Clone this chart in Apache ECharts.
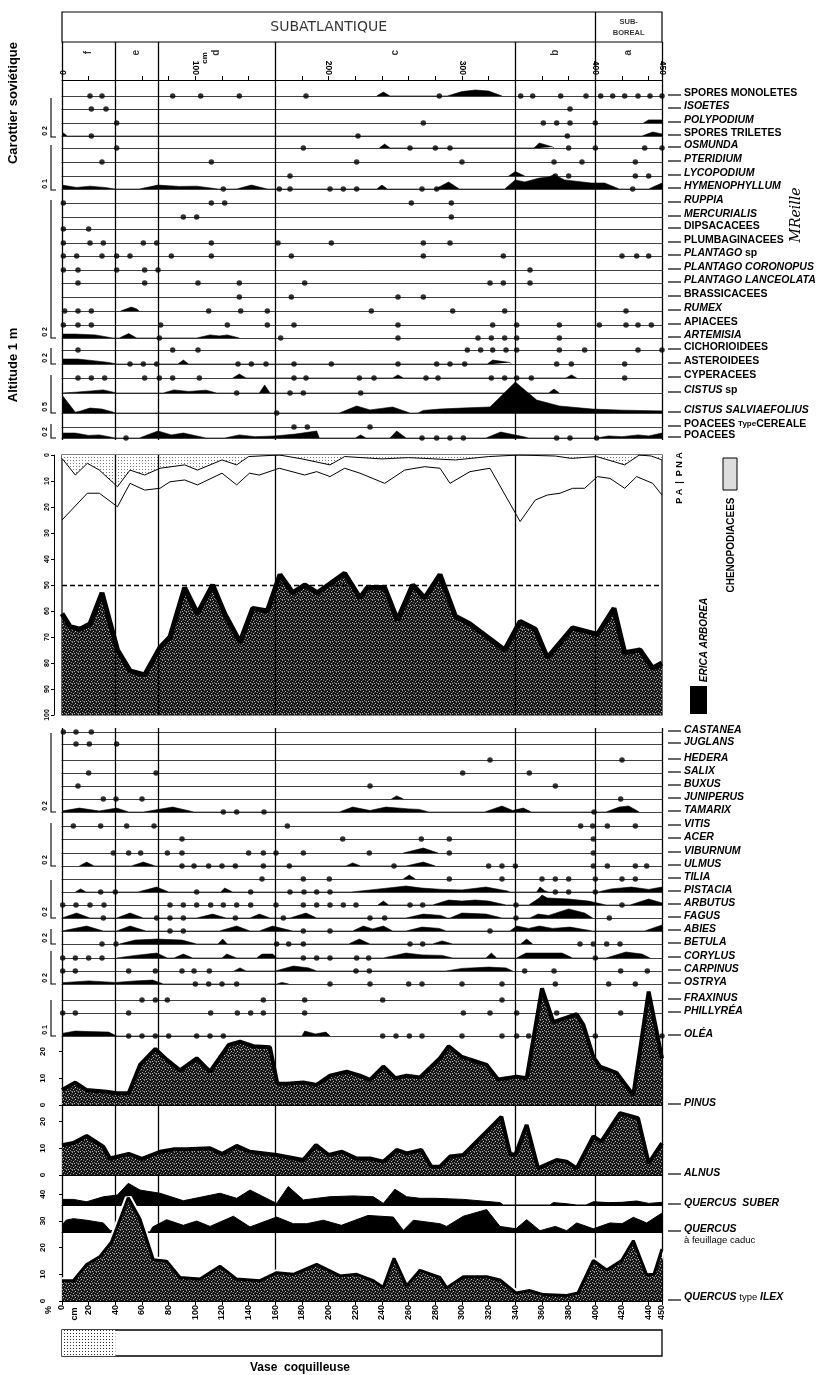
<!DOCTYPE html>
<html><head><meta charset="utf-8">
<script src="https://cdn.jsdelivr.net/npm/echarts@6/dist/echarts.min.js"></script>
<style>html,body{margin:0;padding:0;background:#fff}#c{width:818px;height:1375px}</style>
</head><body><div id="c"></div>
<script>
// ===================== DATA =====================
const zoneBounds = [40, 72, 160, 340, 400];
const zoneLetters = ['f', 'e', 'd', 'c', 'b', 'a'];
const zoneMids = [20, 56, 116, 250, 370, 425];
const periodNames = ['SUBATLANTIQUE', 'SUB-\nBOREAL'];
const periodMids = [200, 425];
const topTickLabels = [0, 100, 200, 300, 400, 450];

const upperTaxa = ['{r|SPORES MONOLETES}','{i|ISOETES}','{i|POLYPODIUM}','{r|SPORES TRILETES}','{i|OSMUNDA}','{i|PTERIDIUM}','{i|LYCOPODIUM}','{i|HYMENOPHYLLUM}','{i|RUPPIA}','{i|MERCURIALIS}','{r|DIPSACACEES}','{r|PLUMBAGINACEES}','{i|PLANTAGO} {r|sp}','{i|PLANTAGO CORONOPUS}','{i|PLANTAGO LANCEOLATA}','{r|BRASSICACEES}','{i|RUMEX}','{r|APIACEES}','{i|ARTEMISIA}','{r|CICHORIOIDEES}','{r|ASTEROIDEES}','{r|CYPERACEES}','{i|CISTUS} {r|sp}','{i|CISTUS SALVIAEFOLIUS}','{r|POACEES} {s|Type}{r|CEREALE}','{r|POACEES}'];
const upperDots = [
  [21,30,83,104,133,183,283,344,353,374,393,404,413,422,432,441,450],
  [22,33,381],
  [41,271,361,371,381,400],
  [22,222,379],
  [41,181,261,280,291,380,400,437,450],
  [30,112,221,300,369,390,430],
  [171,370,380,430,440],
  [121,163,171,201,211,221,270,281,428],
  [1,112,122,262,292],
  [91,101,292],
  [1,20],
  [1,21,31,61,71,112,162,202,271,291],
  [1,11,30,41,51,82,112,172,271,331,420,431,440],
  [1,12,41,62,72,351],
  [12,62,102,133,182,321,331,351],
  [133,172,252,271],
  [2,12,22,110,134,154,232,293,332,423],
  [1,12,22,74,124,154,174,252,323,341,373,403,423,432,442],
  [73,164,252,312,322,332,341,373],
  [12,83,102,304,314,323,333,341,373,392,432,450],
  [51,61,71,132,142,153,174,202,252,281,291,302,371,382,422],
  [12,22,32,62,73,83,103,174,183,223,234,273,282,322,332,341,352,422],
  [131,171,181,224],
  [161],
  [174,184,231],
  [48,270,281,291,301,371,381,401]
];
const upperCurves = [
  [[236,0],[241,1.5],[246,0],[289,0],[300,1.7],[310,2.3],[320,1.9],[330,0]],
  [],
  [[436,0],[440,1.2],[450,1.2]],
  [[0,1.5],[4,0],[435,0],[443,1.5],[450,0.8]],
  [[238,0],[242,1.5],[246,0],[354,0],[358,1.9],[368,0.4],[369,0]],
  [],
  [[335,0],[340,1.7],[347,0]],
  [[0,1.5],[11,0.6],[21,1.1],[32,0.6],[40,0],[58,0],[72,1.5],[88,1],[101,1.1],[117,0],[131,0],[142,1.5],[154,0],[236,0],[240,1.5],[244,0],[280,0],[290,2.7],[298,0],[332,0],[340,3.5],[347,2.7],[358,4.2],[365,4.6],[369,5.5],[377,3.5],[397,2.3],[407,2.3],[418,0],[440,0],[450,2.3]],
  [],[],[],[],[],[],[],[],
  [[44,0],[52,1.5],[56,0.8],[58,0]],
  [],
  [[0,1.5],[10,1.5],[25,1.2],[38,0],[43,0],[50,1.7],[56,0],[101,0],[111,1.2],[118,0.8],[124,1.2],[133,0]],
  [],
  [[0,1.9],[12,1.9],[25,1.2],[35,0.6],[41,0],[87,0],[91,1.5],[95,0],[319,0],[323,1.5],[336,0.6],[337,0]],
  [[128,0],[133,1.5],[138,0],[248,0],[252,1.2],[256,0],[378,0],[382,1.2],[386,0]],
  [[0,0],[10,0.3],[22,0.8],[31,1.2],[41,0],[76,0],[84,1.2],[95,0.6],[108,1.1],[116,0],[148,0],[152,3.1],[156,0],[365,0],[369,1.5],[373,0]],
  [[0,6.9],[10,0.3],[14,0.8],[21,1.9],[30,1.5],[38,0.4],[40,0],[208,0],[221,2.7],[231,1.2],[248,2.3],[261,0],[267,0],[271,1],[283,1.5],[300,1.9],[321,2.3],[340,11.9],[356,5],[373,2.7],[398,1.5],[420,1.1],[450,0.8]],
  [],
  [[0,1.9],[10,1.9],[20,1],[28,1.2],[40,0],[58,0],[72,2.7],[82,1.2],[91,1.9],[108,0],[122,0],[133,1.2],[145,0.5],[160,0.8],[175,1.5],[191,2.7],[193,0],[220,0],[224,1.2],[228,0],[246,0],[251,2.7],[258,0],[318,0],[329,2.3],[347,0.4],[350,0],[401,0],[410,0.8],[420,0.5],[432,1.2],[440,0.8],[450,1.9]]
];

// Pollen sum diagram (middle panel)
const chenopodiaceae = [[0,1.3],[10,7.7],[19,3.2],[28,5.8],[41.6,12.2],[51,5.8],[62,7.7],[73.5,5.1],[92,3.8],[101.6,5.8],[120,1.9],[131,3.8],[140,0.6],[163,0],[180,1.5],[201,3.8],[212,0.6],[240,1.5],[260,1],[295,1.9],[320,0.6],[343,0],[370,0.4],[382,1.3],[401,0.6],[422,3.8],[433,0],[442,0.4],[450,1.9]];
const apNapLine = [[0,25],[19,14.7],[28,14.7],[41.6,19.9],[51,10.9],[62,13.5],[73.5,12.8],[81,10.3],[92,9.6],[101.6,11.5],[120,7],[131,11.5],[140.6,7],[148,7.7],[163,5.1],[182,7.7],[191,6.4],[201,8.3],[212,5.1],[223.5,7],[242,10.9],[257,5.8],[272,4.5],[283.5,5.1],[291,10.9],[306,6.4],[321,5.1],[343.6,25.6],[355,17.3],[364,15.4],[373.5,14.7],[383,12.8],[392,12.8],[401.6,8.3],[411,9],[422,12.8],[431,8.3],[443,10.9],[450,15.4]];
const ericaArborea = [[0,39],[6,34],[13.5,33],[21,35],[30,47],[41.6,25],[51,17],[62,15.4],[73.5,26],[81,30],[92,49],[101.6,39],[113,50],[122,39],[133.5,28],[143,41],[154,40],[163.5,54],[173,47],[182,50],[191.6,47],[212,54.5],[223.5,45],[229,49],[242,49],[251.6,36.5],[263,50],[272,45],[283.5,54],[295,38],[306,35],[332,25],[343.6,36],[355,33],[364,22],[383,33.5],[401.6,31],[414,41],[422,24],[433.5,25],[443,18],[450,20]];

const lowerTaxa = ['CASTANEA','JUGLANS','HEDERA','SALIX','BUXUS','JUNIPERUS','TAMARIX','VITIS','ACER','VIBURNUM','ULMUS','TILIA','PISTACIA','ARBUTUS','FAGUS','ABIES','BETULA','CORYLUS','CARPINUS','OSTRYA','FRAXINUS','PHILLYRÉA','OLÉA'];
const lowerDots = [
  [1,10.5,22],
  [10.5,20.5,41],
  [321,420],
  [20,70.5,300.5,350.5],
  [12,231,370],
  [31,40.5,60,419],
  [121,131,151.5,399],
  [8.5,29,48.5,69,169,389,398,409,430],
  [90,210.5,269.5,290.5,398.5],
  [38.5,50,59,79,90,140,151,160.5,181,230.5,290.5,398.5],
  [90,99,110,120,130,151,170.5,249,320,330,340,398.5,409,430,438.5],
  [150,181,200.5,290.5,330,360,370,380,400,420,430],
  [29,40,101,141.5,171,181.5,191,201,370,380,400],
  [0.5,10.5,21,31.5,81,91,101,111.5,121,131,141.5,160.5,181,191,201,211,220.5,261,270.5,340.5,420],
  [31,71,81,91,130,166,231,242,340.5,410.5],
  [81,91,181,201,321],
  [30,40.5,161,170,181,261,270.5,388.5,398.5,408.5,418.5],
  [0.5,10,20,30,181,191,201,221,230,400],
  [0.5,10,50,70,90,99,110.5,220.5,230.5,347,369,419,439],
  [100,110,120,131,201,231,260,270,300,330,370,410,430],
  [60,70,79,151,182,240.5,330],
  [0.5,10,50,111.5,131.5,141.5,151,182,301,321,341,371,419,439],
  [50,60,70,80,101,111,121,240.5,250.5,260.5,270,300,330,341,350,400,450]
];
const lowerCurves = [
  [],[],[],[],[],
  [[247,0],[251,1.2],[256,0]],
  [[0,0.4],[13,1.5],[28,0.4],[41,1.5],[50,0],[61,0],[83,1.9],[99,0],[208,0],[218,1.9],[231,0.6],[243,1.9],[260,1.2],[268,1],[275,0],[317,0],[330,2.3],[338,0.6],[346,1.5],[352,0],[408,0],[418,1.9],[425,2.3],[433,0]],
  [],[],
  [[256,0],[271,1.9],[282,0]],
  [[13,0],[18.5,1.5],[24,0],[52,0],[61,1.5],[70,0],[213,0],[218,1.2],[224,0],[258,0],[271,1.5],[280,0]],
  [[256,0],[260.5,1.5],[265,0]],
  [[10,0],[14,1.2],[18,0],[57,0],[71,1.9],[80,0],[119,0],[122,1.5],[128,0],[217,0],[235,1],[258,2.3],[270,1.5],[285,1],[300,0.8],[318,1.9],[334,0.4],[336,0],[356,0],[358.5,1.9],[362,0.5],[365,0],[402,0],[412,1.2],[427,1.9],[440,1],[450,1.9]],
  [[237,0],[241,1.5],[245,0],[278,0],[290,1.9],[300,1.5],[310,1.9],[320,1.5],[333,0],[350,0],[358,2.7],[360,3.8],[364,2.7],[380,2.3],[395,1.5],[408,0],[426,0],[440,2.3],[450,0.8]],
  [[0,0],[11,1.9],[21,0],[41,0],[51,1.9],[61,0],[101,0],[113,1.5],[123,0],[141,0],[148,1.5],[156,0],[171,0],[183,1.9],[191,0],[258,0],[271,1.5],[284,1],[289,0],[291,0],[300,1.9],[318,1.5],[330,0],[351,0],[357,1.5],[365,1],[380,3.5],[392,1.9],[398,0]],
  [[0,0],[18.5,1.9],[31,0],[41,0],[51,1.9],[63,0],[118,0],[131,1.9],[141,0],[148,0],[158,1.9],[173,0],[218,0],[226,1.9],[233,0.8],[241,1.9],[248,0],[258,0],[270,1.5],[283,1],[288,0],[336,0],[341,1.9],[350,1],[358,1.9],[368,1],[381,1.5],[398,0],[437,0],[450,2.3]],
  [[43,0],[55,1.5],[71,1.9],[90,1.5],[101,0],[117,0],[120.5,1.9],[124,0],[215,0],[223,1.9],[231,0],[278,0],[285,1.2],[293,0],[344,0],[348.5,1.9],[353,0]],
  [[41,0],[55,1],[71,1.9],[79,0],[84,0],[91,1.5],[98,0],[120,0],[123.5,1.5],[131,0],[146,0],[150,1.5],[158,1.5],[161,0],[241,0],[258,1.9],[270,1.2],[285,1],[293,0],[318,0],[322,1.9],[326,0],[341,0],[348,1.9],[375,1.9],[383,0],[408,0],[423,2.3],[435,1.5],[441,0]],
  [[129,0],[133.5,1.2],[138,0],[160,0],[173.5,1.9],[185,1.2],[191,0],[288,0],[300,1],[320,1.5],[333,1.2],[338,0]],
  [[0,0.5],[20,1.2],[40,0.6],[55,1.2],[68,1.5],[76,0],[161,0],[165,0.6],[170,0]],
  [],[],
  [[0,1],[10,1.9],[20,1.7],[35,1.5],[41,0],[180,0],[182,1.9],[190,0.8],[198,1.5],[201,0]]
];

const pinus = [[0,5.6],[10,8.4],[18.5,5.6],[33.5,5],[41,4.4],[50,4.4],[58.5,15],[70,21],[78.5,17],[88.5,13],[101,17.5],[111,12.5],[125,22.5],[133.5,23.7],[143.5,22],[156,21.6],[161.5,8],[168.5,8],[181,8.4],[191,7.5],[201,11],[213.5,12.5],[223.5,11],[231,9.4],[241,14.4],[250,10],[258.5,11],[268.5,10.3],[283.5,17.5],[290,22],[300,18],[318.5,15],[327,9.6],[341,10.6],[348.5,10],[360,43.7],[368.5,31],[386,34],[391,30],[398.5,18],[403.5,14.4],[416,12],[428.5,3.7],[440,42.5],[450,17.5]];
const alnus = [[0,11.2],[8.5,12],[18.5,14.6],[31,10.6],[36,6.2],[41.5,6.9],[50,7.9],[60,6],[73.5,8.7],[83.5,9.6],[93.5,9.6],[111,10],[120,7.9],[131,10.9],[141,8.7],[161,7.5],[181,5.6],[190.5,11.2],[200,7.5],[210,8.7],[221,6.2],[231,6.2],[241,5],[251,9.4],[258.5,8.1],[269.5,9.4],[277,3.1],[283.5,3.1],[291,6.9],[301,7.5],[310,12],[320,17],[329.5,21.8],[336,8],[340,7.5],[348.5,18.7],[357,2.5],[371,5.6],[378.5,5],[386,2.5],[398.5,14.4],[404.5,12.5],[418.5,23.2],[432,21.3],[440,4.4],[450,11.9]];
const quercusSuber = [[0,2.1],[8.5,2.1],[18.5,1.2],[31,3.1],[41.5,3.7],[49.7,8.1],[58.5,5.6],[73.5,4.4],[91,1.6],[118.5,4.4],[131,2.5],[141,5.6],[161,0.6],[169.7,6.9],[181,1.9],[201,3.1],[218.5,3.4],[233.5,3.1],[241,0.6],[249.7,5.9],[258.5,3.1],[268.5,2.5],[280,2.5],[301,2.1],[328.5,0.9],[331,0],[366,0],[368.5,0.9],[378,0.5],[386,0],[393,0],[398.5,1.2],[410,0.9],[420,1],[431,1.5],[440,0.6],[450,1]];
const quercusCaduc = [[0,2.5],[3,4.4],[8.5,5],[18.5,4.4],[31,3.4],[36,0.6],[37,0],[66,0],[68,1.9],[78.5,4.6],[91,2.5],[101,4.1],[111,2.1],[128.5,5.9],[141,1.9],[161,5.6],[173.5,3.1],[183.5,3.1],[196,4.4],[209.5,2.5],[229.5,6.2],[248.5,5.6],[256,0.6],[263.5,4.4],[283.5,3.1],[288.5,2.1],[301,5.9],[318.5,8.4],[328.5,2.1],[340.5,1.2],[348.5,4.6],[358.5,0.5],[370,2.1],[378.5,0.5],[386,3.4],[398.5,1.2],[411,3.4],[420,3.1],[428.5,5.5],[438.5,3.4],[450,7.1]];
const quercusIlex = [[0,7.6],[8.5,7.6],[18.5,13.7],[28.5,16.7],[37,22],[49.7,38.7],[58.5,30.7],[68.5,15.5],[78.5,14.9],[88.5,8.8],[103.5,8.2],[118.5,13],[131,8.2],[148.5,7.6],[161,10.6],[173.5,10],[191,13.7],[208.5,9.4],[221,10],[233.5,7.6],[241,5.1],[249,16],[258.5,5.7],[268.5,11.5],[283.5,8.8],[288.5,4.9],[301,9.1],[318.5,9.1],[328.5,7.9],[340.5,3],[351,3.9],[361,2.4],[378.5,2.1],[387,3],[398.5,15.2],[408.5,11.6],[419.7,15.2],[428.5,22.6],[438.5,9.8],[444,10],[450,19.5]];
const bigTaxa = ['{i|PINUS}','{i|ALNUS}','{i|QUERCUS  SUBER}','{i|QUERCUS}\n{n|à feuillage caduc}','{i|QUERCUS} {n|type} {i|ILEX}'];
const lithology = [[0, 40]];
const scaleLabels = ['0 2', '0 1', '0 2', '0 2', '0 5', '0 2', '0 2', '0 2', '0 2', '0 2', '0 2', '0 1'];

// ===================== LAYOUT =====================
const L = 62, W = 600;
const upperBase = [96,109,123,136,148,162,176,189,203,217,229,243,256,270,283,297,311,325,338,350,364,378,393,413,427,438];
const lowerBase = [732,744,760,773,786,799,812,826,839,853,866,879,892,905,918,931,944,958,971,984,1000,1013,1036];
const brackets = [[98,137],[145,190],[200,338],[348,364],[375,413],[424,438],[733,812],[823,866],[880,918],[929,944],[951,984],[1000,1036]];
const PX = 2.6, BPX = 2.67;
const F = '"Liberation Sans", Arial, sans-serif';

function speckle() {
  const c = document.createElement('canvas'); c.width = 6; c.height = 6;
  const g = c.getContext('2d');
  g.fillStyle = '#161616'; g.fillRect(0, 0, 6, 6);
  const pts = [[0,0,'#8a8a8a'],[3,1,'#c0c0c0'],[5,2,'#777'],[1,3,'#aaa'],[4,4,'#999'],[2,5,'#bbb'],[5,5,'#666'],[2,2,'#555'],[0,5,'#888']];
  pts.forEach(p => { g.fillStyle = p[2]; g.fillRect(p[0], p[1], 1, 1); });
  return c;
}
function dotPat(color) {
  const c = document.createElement('canvas'); c.width = 3; c.height = 3;
  const g = c.getContext('2d');
  g.fillStyle = '#fff'; g.fillRect(0, 0, 3, 3);
  g.fillStyle = color; g.fillRect(1, 1, 1, 1);
  return c;
}
const SPECKLE = {image: speckle(), repeat: 'repeat'};
const DOTS = {image: dotPat('#777'), repeat: 'repeat'};
const STIP = {image: dotPat('#333'), repeat: 'repeat'};

const grids = [], xA = [], yA = [], ser = [], gfx = [];
const noAx = {axisLine:{show:false}, axisTick:{show:false}, axisLabel:{show:false}, splitLine:{show:false}};
function grid(top, height, xo, yo, go) {
  const gi = grids.length;
  grids.push(Object.assign({left: L, width: W, top: top, height: height}, go || {}));
  const xi = xA.push(Object.assign({gridIndex: gi, type: 'value', min: 0, max: 450}, noAx, xo || {})) - 1;
  const yi = yA.push(Object.assign({gridIndex: gi, type: 'value', min: 0, max: 1}, noAx, yo || {})) - 1;
  return {gi, xi, yi};
}
function vlines(a, depths) {
  ser.push({type: 'line', xAxisIndex: a.xi, yAxisIndex: a.yi, data: [], silent: true, z: 1,
    markLine: {silent: true, symbol: 'none', label: {show: false}, animation: false,
      lineStyle: {color: '#000', width: 1.3, type: 'solid'}, data: depths.map(d => ({xAxis: d}))}});
}
const RICH = {
  r: {fontFamily: F, fontWeight: 'bold', fontSize: 10.5, fill: '#000', color: '#000'},
  i: {fontFamily: F, fontWeight: 'bold', fontStyle: 'italic', fontSize: 10.5, fill: '#000', color: '#000'},
  s: {fontFamily: F, fontWeight: 'bold', fontSize: 8, fill: '#000', color: '#000'},
  n: {fontFamily: F, fontSize: 9.5, fill: '#000', color: '#000'}
};
function text(x, y, t, o) {
  o = o || {};
  gfx.push({type: 'text', x: x, y: y, rotation: o.rot || 0, silent: true, z: 100,
    style: {text: t, fill: '#000', font: o.font || ('bold 10px ' + F), rich: o.rich,
      textAlign: o.align || 'left', align: o.align || 'left',
      textVerticalAlign: o.va || 'middle', verticalAlign: o.va || 'middle'}});
}
function rowLabel(base, t, dy, va) {
  gfx.push({type: 'line', silent: true, z: 100, shape: {x1: 668, y1: base - 1, x2: 681, y2: base - 1}, style: {stroke: '#000', lineWidth: 1.2}});
  text(684, base - dy, t, {rich: RICH, va: va});
}
function taxonRow(base, dots, curve) {
  const h = 13;
  const a = grid(base - h, h, {axisLine: {show: true, onZero: false, lineStyle: {color: '#2a2a2a', width: 0.9}}}, {max: h / PX});
  if (curve.length) ser.push({type: 'line', xAxisIndex: a.xi, yAxisIndex: a.yi, data: curve, symbol: 'none', clip: false, silent: true,
    lineStyle: {color: '#000', width: 0.6}, areaStyle: {color: '#000', opacity: 1}, z: 4});
  if (dots.length) ser.push({type: 'scatter', xAxisIndex: a.xi, yAxisIndex: a.yi, data: dots.map(d => [d, 0]), symbolSize: 5.5,
    itemStyle: {color: '#000'}, silent: true, clip: false, z: 5});
}

// ---------- header ----------
const hTitle = grid(12, 30, {}, {}, {show: true, borderColor: '#000', borderWidth: 1.2});
vlines(hTitle, [400]);
ser.push({type: 'scatter', xAxisIndex: hTitle.xi, yAxisIndex: hTitle.yi, symbolSize: 0, silent: true,
  data: periodNames.map((n, i) => ({value: [periodMids[i], 0.5], label: {show: true, position: 'inside', formatter: n,
    fontFamily: i === 0 ? '"DejaVu Sans", sans-serif' : F, fontWeight: i === 0 ? 'normal' : 'bold', fontSize: i === 0 ? 14 : 7.5, lineHeight: 11, color: '#000'}}))});
const hZone = grid(42, 38);
vlines(hZone, [0].concat(zoneBounds, [450]));
ser.push({type: 'scatter', xAxisIndex: hZone.xi, yAxisIndex: hZone.yi, symbolSize: 0, silent: true,
  data: zoneLetters.map((z, i) => ({value: [zoneMids[i], 0.72], label: {show: true, position: 'inside', formatter: z, rotate: 90,
    fontFamily: F, fontWeight: 'bold', fontSize: 10, color: '#000'}}))});

// ---------- upper block frame with top depth axis ----------
const upFrame = grid(80, 360, {
  position: 'top', interval: 20,
  axisLine: {show: true, onZero: false, lineStyle: {color: '#000', width: 1}},
  axisTick: {show: true, length: 4, lineStyle: {color: '#000'}},
  axisLabel: {show: true, rotate: 90, margin: 5, fontFamily: F, fontWeight: 'bold', fontSize: 8.5, color: '#000',
    formatter: v => topTickLabels.indexOf(v) >= 0 ? String(v) : ''}
});
vlines(upFrame, [0].concat(zoneBounds, [450]));
text(205, 58, 'cm', {rot: Math.PI / 2, align: 'center', font: 'bold 8px ' + F});

upperBase.forEach((b, i) => { taxonRow(b, upperDots[i], upperCurves[i]); rowLabel(b, upperTaxa[i], 3); });

// ---------- middle pollen-sum panel ----------
const mid = grid(455, 260, {}, {
  inverse: true, min: 0, max: 100, interval: 10,
  axisLine: {show: true, onZero: false, lineStyle: {color: '#000'}}, offset: 8,
  axisTick: {show: true, length: 3, lineStyle: {color: '#000'}},
  axisLabel: {show: true, rotate: 90, fontFamily: F, fontSize: 7, fontWeight: 'bold', color: '#000', margin: 3}
}, {show: true, borderColor: '#000', borderWidth: 1.2});
const midY2 = yA.push(Object.assign({gridIndex: mid.gi, type: 'value', min: 0, max: 100}, noAx)) - 1;
vlines(mid, zoneBounds);
ser.push({type: 'line', xAxisIndex: mid.xi, yAxisIndex: mid.yi, data: chenopodiaceae, symbol: 'none', silent: true, z: 3,
  lineStyle: {color: '#000', width: 1}, areaStyle: {color: DOTS, origin: 'start', opacity: 1},
  markLine: {silent: true, symbol: 'none', label: {show: false}, lineStyle: {color: '#000', width: 1.4, type: [5, 3]}, data: [{yAxis: 50}]}});
ser.push({type: 'line', xAxisIndex: mid.xi, yAxisIndex: mid.yi, data: apNapLine, symbol: 'none', silent: true, z: 3,
  lineStyle: {color: '#000', width: 1}});
ser.push({type: 'line', xAxisIndex: mid.xi, yAxisIndex: midY2, data: ericaArborea, symbol: 'none', silent: true, z: 4,
  lineStyle: {color: '#000', width: 5}, areaStyle: {color: SPECKLE, opacity: 1}});
text(680, 478, 'P A  |  P N A', {rot: Math.PI / 2, align: 'center', font: 'bold 9px ' + F});
gfx.push({type: 'rect', silent: true, z: 100, shape: {x: 723, y: 458, width: 14, height: 32}, style: {fill: '#ddd', stroke: '#000', lineWidth: 1}});
text(731, 545, 'CHENOPODIACEES', {rot: Math.PI / 2, align: 'center', font: 'bold 10px ' + F});
text(704, 640, 'ERICA ARBOREA', {rot: Math.PI / 2, align: 'center', font: 'italic bold 10px ' + F});
gfx.push({type: 'rect', silent: true, z: 100, shape: {x: 690, y: 686, width: 17, height: 28}, style: {fill: '#000'}});

// ---------- lower block ----------
const lowFrame = grid(728, 573);
vlines(lowFrame, [0].concat(zoneBounds, [450]));
lowerBase.forEach((b, i) => { taxonRow(b, lowerDots[i], lowerCurves[i]); rowLabel(b, '{i|' + lowerTaxa[i] + '}', 2); });

const bigAxis = {show: true, offset: 12, interval: 10,
  axisLine: {show: true, lineStyle: {color: '#000'}}, axisTick: {show: true, length: 3, lineStyle: {color: '#000'}},
  axisLabel: {show: true, rotate: 90, fontFamily: F, fontWeight: 'bold', fontSize: 8, color: '#000', margin: 3}};
function bigArea(a, data, z, lw) {
  ser.push({type: 'line', xAxisIndex: a.xi, yAxisIndex: a.yi, data: data, symbol: 'none', clip: false, silent: true, z: z,
    lineStyle: {color: '#000', width: lw}, areaStyle: {color: SPECKLE, opacity: 1}});
}
const gP = grid(1105 - 20 * BPX, 20 * BPX, {axisLine: {show: true, onZero: false, lineStyle: {color: '#000'}}}, Object.assign({}, bigAxis, {min: 0, max: 20}));
bigArea(gP, pinus, 6, 4);
rowLabel(1105, bigTaxa[0], 2);
const gA = grid(1175 - 20 * BPX, 20 * BPX, {axisLine: {show: true, onZero: false, lineStyle: {color: '#000'}}}, Object.assign({}, bigAxis, {min: 0, max: 20}));
bigArea(gA, alnus, 6, 4);
rowLabel(1175, bigTaxa[1], 2);
const gS = grid(1205 - 13, 13, {axisLine: {show: true, onZero: false, lineStyle: {color: '#000'}}}, {max: 13 / BPX});
ser.push({type: 'line', xAxisIndex: gS.xi, yAxisIndex: gS.yi, data: quercusSuber, symbol: 'none', clip: false, silent: true, z: 6,
  lineStyle: {color: '#000', width: 1}, areaStyle: {color: '#000', opacity: 1}});
rowLabel(1205, bigTaxa[2], 2);
const gC = grid(1232 - 13, 13, {axisLine: {show: true, onZero: false, lineStyle: {color: '#000'}}}, {max: 13 / BPX});
ser.push({type: 'line', xAxisIndex: gC.xi, yAxisIndex: gC.yi, data: quercusCaduc, symbol: 'none', clip: false, silent: true, z: 6,
  lineStyle: {color: '#000', width: 1}, areaStyle: {color: '#000', opacity: 1}});
rowLabel(1232, bigTaxa[3], 8, 'top');
const gI = grid(1301 - 40 * BPX, 40 * BPX, {
  interval: 20,
  axisLine: {show: true, onZero: false, lineStyle: {color: '#000', width: 1}},
  axisTick: {show: true, length: 4, lineStyle: {color: '#000'}},
  axisLabel: {show: true, rotate: 90, margin: 4, fontFamily: F, fontWeight: 'bold', fontSize: 9, color: '#000'}
}, Object.assign({}, bigAxis, {min: 0, max: 40}));
ser.push({type: 'line', xAxisIndex: gI.xi, yAxisIndex: gI.yi, data: quercusIlex, symbol: 'none', clip: false, silent: true, z: 7,
  lineStyle: {color: '#fff', width: 7}});
bigArea(gI, quercusIlex, 8, 3);
rowLabel(1301, bigTaxa[4], 4);
text(75, 1314, 'cm', {rot: Math.PI / 2, align: 'center', font: 'bold 9px ' + F});
text(49, 1310, '%', {rot: Math.PI / 2, align: 'center', font: 'bold 9px ' + F});

// ---------- scale brackets on the left ----------
brackets.forEach((b, i) => {
  gfx.push({type: 'polyline', silent: true, z: 100, shape: {points: [[51, b[0]], [51, b[1]], [56, b[1]]]}, style: {stroke: '#000', lineWidth: 1.1, fill: null}});
  text(45, b[1] - 6, scaleLabels[i], {rot: Math.PI / 2, align: 'center', font: 'bold 7px ' + F});
});

// ---------- lithology ----------
const gL = grid(1330, 26, {}, {}, {show: true, borderColor: '#000', borderWidth: 1.3});
ser.push({type: 'line', xAxisIndex: gL.xi, yAxisIndex: gL.yi, data: [], silent: true,
  markArea: {silent: true, itemStyle: {color: STIP, opacity: 1}, data: lithology.map(l => [{xAxis: l[0]}, {xAxis: l[1]}])}});
text(300, 1368, 'Vase  coquilleuse', {align: 'center', font: 'bold 12px ' + F});

// ---------- side texts ----------
text(13, 103, 'Carottier soviétique', {rot: Math.PI / 2, align: 'center', font: 'bold 13px ' + F});
text(13, 365, 'Altitude 1 m', {rot: Math.PI / 2, align: 'center', font: 'bold 13px ' + F});
text(796, 215, 'MReille', {rot: Math.PI / 2, align: 'center', font: 'italic 14px "DejaVu Serif", serif'});

const chart = echarts.init(document.getElementById('c'), null, {renderer: 'canvas'});
chart.setOption({
  animation: false, backgroundColor: '#fff',
  grid: grids, xAxis: xA, yAxis: yA, series: ser, graphic: {elements: gfx}
});
</script></body></html>
